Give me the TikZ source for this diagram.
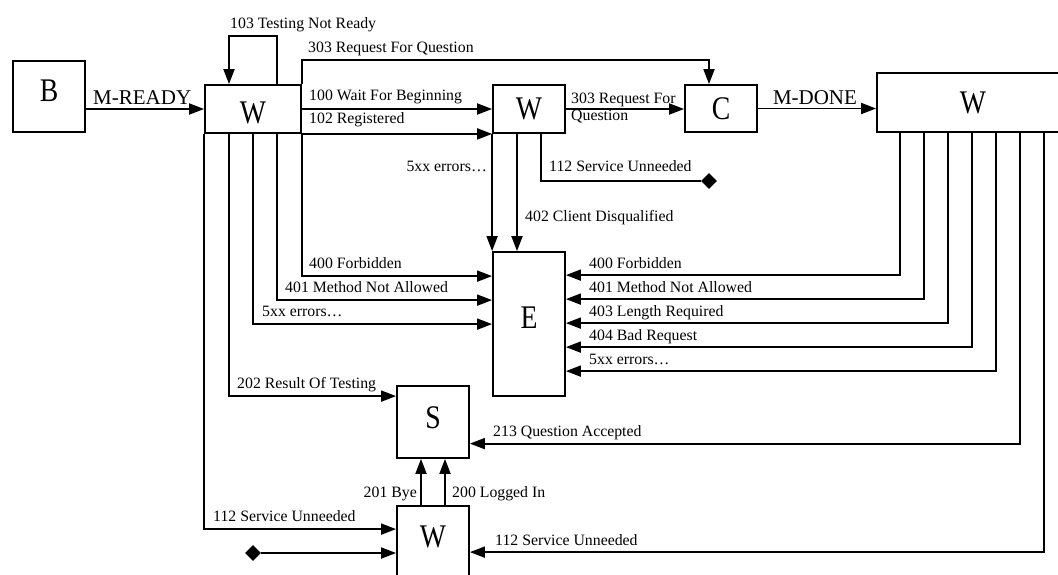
\documentclass[tikz,border=0pt]{standalone}
\usepackage{fontspec}
\usepackage{graphicx}
\setmainfont{Liberation Serif}
\usetikzlibrary{arrows.meta,shapes.geometric}
\newcommand\BoxLetter[1]{\scalebox{0.84}[1]{#1}}
\begin{document}
\begin{tikzpicture}[x=1pt,y=-1pt,
  box/.style={draw,line width=1.8pt,inner sep=0pt,font=\fontsize{33}{33}\selectfont},
  arr/.style={line width=1.8pt,-{Triangle[length=15pt,width=11pt]}},
  ln/.style={line width=1.8pt},
  lbl/.style={font=\fontsize{15.8}{17}\selectfont,inner sep=0pt,anchor=base west},
  bigl/.style={font=\fontsize{21}{21}\selectfont,inner sep=0pt},
  dia/.style={diamond,fill,draw=none,inner sep=0pt,minimum width=16pt,minimum height=16pt}]
\useasboundingbox (0,0) rectangle (1058,574);
\clip (0,0) rectangle (1058,574);

% boxes
\node[box,minimum width=72pt,minimum height=71pt,text depth=11pt] (B) at (49,96.5) {\BoxLetter{B}};
\node[box,minimum width=96pt,minimum height=48pt,text height=29pt] (W1) at (253,109) {\BoxLetter{W}};
\node[box,minimum width=72pt,minimum height=48pt] (W2) at (529,109) {\BoxLetter{W}};
\node[box,minimum width=72pt,minimum height=47pt] (C) at (721,108.5) {\BoxLetter{C}};
\node[box,minimum width=192pt,minimum height=59pt] (W4) at (973,102.5) {\BoxLetter{W}};
\node[box,minimum width=72pt,minimum height=144pt,text depth=12pt] (E) at (529,324) {\BoxLetter{E}};
\node[box,minimum width=72pt,minimum height=72pt,text depth=9pt] (S) at (433,422) {\BoxLetter{S}};
\node[box,minimum width=72pt,minimum height=84pt,text depth=22pt] (W3) at (433,548) {\BoxLetter{W}};
\node[dia] (D1) at (709,181) {};
\node[dia] (D2) at (253,553) {};

% top row
\draw[arr] (B.east |- W1.west) -- (W1.west);
\node[bigl,anchor=base west] at (93,104) {M-READY};
\draw[arr] ([xshift=24pt]W1.north) -- ++(0,-48) -| ([xshift=-24pt]W1.north);
\node[lbl] at (230,28) {103 Testing Not Ready};
\draw[arr] (W1.north east) -- ++(0,-24) -| ([xshift=-12pt]C.north);
\node[lbl] at (308,52) {303 Request For Question};
\draw[arr] (W1.east) -- (W2.west);
\node[lbl] at (309,100) {100 Wait For Beginning};
\draw[arr] (W1.south east) -- (W2.south west);
\node[lbl] at (309,123.5) {102 Registered};
\draw[arr] (W2.east) -- (C.west |- W2.east);
\node[lbl] at (571,103) {303 Request For};
\node[lbl] at (571,120) {Question};
\draw[arr] (C.east) -- (W4.west |- C.east);
\node[bigl,anchor=base] at (815,104) {M-DONE};

% from W2
\draw[arr] (W2.south west) -- (E.north west);
\node[lbl,anchor=base east] at (487,171) {5xx errors…};
\draw[arr] ([xshift=-12pt]W2.south) -- ([xshift=-12pt]E.north);
\node[lbl] at (525,221) {402 Client Disqualified};
\draw[ln] ([xshift=12pt]W2.south) |- (D1.west);
\node[lbl] at (549,171.5) {112 Service Unneeded};

% from W1 bottom
\draw[arr] (W1.south east) |- ([yshift=-25pt]E.north west);
\node[lbl] at (309,268) {400 Forbidden};
\draw[arr] ([xshift=24pt]W1.south) |- ([yshift=-49pt]E.north west);
\node[lbl] at (285,292) {401 Method Not Allowed};
\draw[arr] (W1.south) |- ([yshift=-73pt]E.north west);
\node[lbl] at (262,316) {5xx errors…};
\draw[arr] ([xshift=-24pt]W1.south) |- ([yshift=-11pt]S.north west);
\node[lbl] at (237,388.5) {202 Result Of Testing};
\draw[arr] (W1.south west) |- ([yshift=-24pt]W3.north west);
\node[lbl] at (213,521) {112 Service Unneeded};

% from W4 bottom
\draw[arr] ([xshift=24pt]W4.south west) |- ([yshift=-24pt]E.north east);
\node[lbl] at (589,268) {400 Forbidden};
\draw[arr] ([xshift=48pt]W4.south west) |- ([yshift=-48pt]E.north east);
\node[lbl] at (589,292) {401 Method Not Allowed};
\draw[arr] ([xshift=72pt]W4.south west) |- ([yshift=-72pt]E.north east);
\node[lbl] at (589,316) {403 Length Required};
\draw[arr] ([xshift=96pt]W4.south west) |- ([yshift=-96pt]E.north east);
\node[lbl] at (589,340.5) {404 Bad Request};
\draw[arr] ([xshift=120pt]W4.south west) |- ([yshift=-120pt]E.north east);
\node[lbl] at (589,364) {5xx errors…};
\draw[arr] ([xshift=144pt]W4.south west) |- ([yshift=-58.5pt]S.north east);
\node[lbl] at (493,436) {213 Question Accepted};
\draw[arr] ([xshift=168pt]W4.south west) |- ([yshift=-47pt]W3.north east);
\node[lbl] at (495,545) {112 Service Unneeded};

% W3 to S
\draw[arr] ([xshift=-12pt]W3.north) -- ([xshift=-12pt]S.south);
\node[lbl,anchor=base east] at (417,497) {201 Bye};
\draw[arr] ([xshift=12pt]W3.north) -- ([xshift=12pt]S.south);
\node[lbl] at (452,497) {200 Logged In};
\draw[arr] (D2.east) -- (W3.west |- D2.east);
\end{tikzpicture}
\end{document}
